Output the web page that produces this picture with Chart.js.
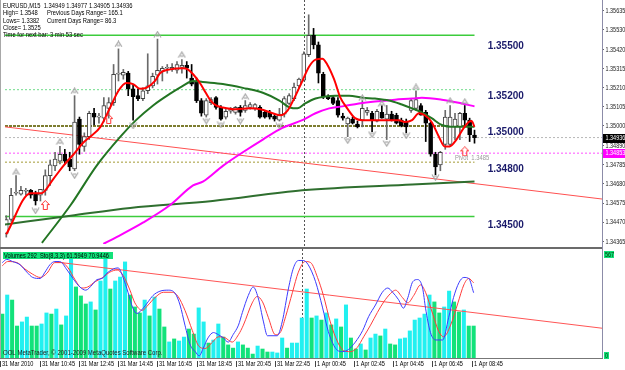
<!DOCTYPE html>
<html><head><meta charset="utf-8">
<script src="https://cdn.jsdelivr.net/npm/chart.js@4.4.1/dist/chart.umd.min.js"></script>
<style>
html,body{margin:0;padding:0;background:#fff;}
#wrap{position:relative;width:625px;height:370px;overflow:hidden;background:#fff;}
canvas{position:absolute;left:0;}
</style></head><body>
<div id="wrap">
<canvas id="c1" width="625" height="249" style="top:0"></canvas>
<canvas id="c2" width="625" height="121" style="top:249px"></canvas>
</div>
<script>
// ---------------- DATA ----------------
const opens = [1.34408,1.34484,1.34629,1.34624,1.34640,1.34645,1.34629,1.34618,1.34645,1.34726,
1.34780,1.34806,1.34844,1.34817,1.34763,1.35038,1.34887,1.34941,1.35070,1.35049,
1.35043,1.35097,1.35129,1.35285,1.35280,1.35291,1.35205,1.35167,1.35151,1.35194,
1.35221,1.35280,1.35301,1.35318,1.35312,1.35307,1.35323,1.35334,1.35264,1.35248,
1.35140,1.35059,1.35129,1.35156,1.35102,1.35049,1.35081,1.35075,1.35102,1.35086,
1.35102,1.35097,1.35102,1.35075,1.35075,1.35054,1.35032,1.35065,1.35124,1.35151,
1.35221,1.35253,1.35393,1.35500,1.35447,1.35285,1.35162,1.35156,1.35140,1.35054,
1.35011,1.35038,1.35011,1.35032,1.35075,1.35070,1.35027,1.35075,1.35038,1.35065,
1.35059,1.35032,1.35022,1.35086,1.35097,1.35113,1.35075,1.35016,1.34844,1.34785,
1.34898,1.34898,1.34995,1.34995,1.35070,1.35032,1.34949];
const highs = [1.34505,1.34656,1.34726,1.34667,1.34656,1.34650,1.34640,1.34650,1.34758,1.34812,
1.34855,1.34887,1.34871,1.34855,1.35167,1.35049,1.34962,1.35081,1.35097,1.35070,
1.35156,1.35156,1.35339,1.35425,1.35312,1.35301,1.35226,1.35205,1.35210,1.35398,
1.35291,1.35479,1.35328,1.35339,1.35344,1.35355,1.35366,1.35355,1.35339,1.35264,
1.35151,1.35151,1.35156,1.35162,1.35113,1.35092,1.35102,1.35108,1.35113,1.35140,
1.35129,1.35124,1.35113,1.35086,1.35086,1.35065,1.35097,1.35162,1.35178,1.35237,
1.35264,1.35409,1.35613,1.35538,1.35463,1.35296,1.35172,1.35167,1.35156,1.35070,
1.35049,1.35049,1.35027,1.35140,1.35102,1.35081,1.35092,1.35113,1.35113,1.35081,
1.35070,1.35043,1.35038,1.35151,1.35194,1.35124,1.35086,1.35022,1.34855,1.34860,
1.35086,1.35113,1.35070,1.35075,1.35113,1.35043,1.34977];
const lows = [1.34387,1.34473,1.34618,1.34618,1.34618,1.34602,1.34564,1.34586,1.34618,1.34672,
1.34753,1.34790,1.34790,1.34753,1.34753,1.34844,1.34860,1.34925,1.35005,1.35016,
1.35022,1.35043,1.35113,1.35248,1.35258,1.35167,1.35032,1.35140,1.35140,1.35178,
1.35210,1.35231,1.35248,1.35291,1.35301,1.35291,1.35291,1.35264,1.35221,1.35129,
1.35054,1.35049,1.35118,1.35092,1.35032,1.35038,1.35070,1.35065,1.35054,1.35075,
1.35092,1.35086,1.35043,1.35043,1.35038,1.35027,1.35027,1.35049,1.35118,1.35140,
1.35210,1.35248,1.35382,1.35425,1.35237,1.35151,1.35145,1.35118,1.35049,1.35032,
1.34941,1.35011,1.34989,1.34995,1.35059,1.34968,1.35022,1.35043,1.34925,1.35027,
1.35011,1.34995,1.34962,1.35075,1.35086,1.35059,1.34914,1.34833,1.34731,1.34753,
1.34871,1.34887,1.34925,1.34925,1.34995,1.34914,1.34905];
const closes = [1.34484,1.34618,1.34634,1.34645,1.34640,1.34618,1.34586,1.34650,1.34726,1.34785,
1.34817,1.34844,1.34806,1.34774,1.35022,1.34898,1.34941,1.35070,1.35049,1.35054,
1.35113,1.35129,1.35285,1.35291,1.35296,1.35205,1.35162,1.35151,1.35194,1.35221,
1.35274,1.35307,1.35318,1.35323,1.35323,1.35339,1.35334,1.35318,1.35231,1.35140,
1.35070,1.35140,1.35145,1.35102,1.35038,1.35081,1.35097,1.35102,1.35075,1.35113,
1.35118,1.35118,1.35049,1.35049,1.35049,1.35038,1.35065,1.35151,1.35167,1.35215,
1.35258,1.35398,1.35500,1.35447,1.35291,1.35162,1.35151,1.35124,1.35059,1.35043,
1.35043,1.35016,1.34995,1.35097,1.35086,1.35032,1.35081,1.35043,1.35065,1.35032,
1.35016,1.35000,1.34995,1.35140,1.35145,1.35059,1.35016,1.34844,1.34774,1.34855,
1.35049,1.35049,1.35038,1.35070,1.35032,1.34952,1.34936];

const volumes = [235,337,310,171,193,219,171,171,182,241,235,262,177,225,551,380,332,289,300,257,
412,562,369,412,433,514,337,273,241,310,225,326,262,166,86,102,91,112,155,128,
268,193,80,96,182,112,70,53,86,70,53,21,64,48,32,32,27,107,53,80,
80,214,369,214,225,203,241,177,209,166,284,107,48,75,43,107,128,118,155,75,
70,102,107,145,203,214,235,337,300,241,273,358,300,246,257,171,171];
// 1 = aqua bar, 0 = green bar
const volDir = [0,1,0,0,1,1,0,0,1,1,0,1,0,1,1,0,0,0,1,0,
1,1,0,1,1,1,0,0,0,1,0,1,0,0,1,0,1,1,0,0,
1,1,0,1,1,0,0,0,1,0,0,0,1,0,0,1,1,1,0,1,
1,1,1,0,1,0,1,0,1,0,1,0,0,1,0,1,1,0,1,0,
0,1,1,1,1,1,1,1,0,0,1,1,0,0,1,0,0];

// moving averages [bar, price]
const redMA = [[0,1.34403],[5,1.34629],[7.2,1.34629],[9.7,1.3471],[11.7,1.3478],[13.8,1.34844],[15.8,1.34909],[17.2,1.34941],[19.3,1.34995],[21.3,1.35102],[23,1.35194],[24.6,1.35237],[26,1.35231],[27.4,1.35205],[28.7,1.3521],[30.5,1.35248],[31.5,1.35291],[33.6,1.35312],[36.2,1.35318],[37.2,1.35312],[38.3,1.35285],[39.7,1.35237],[40.9,1.35183],[41.9,1.3514],[43,1.35113],[44.4,1.35102],[47,1.35092],[49.9,1.35097],[52.1,1.35092],[54.6,1.3507],[56.2,1.35059],[57.7,1.35086],[59.1,1.35156],[60.7,1.35248],[62.1,1.35328],[63.4,1.35366],[64.8,1.35371],[65.8,1.35339],[67.2,1.35258],[68.5,1.35156],[69.9,1.35097],[71.5,1.35043],[73,1.35032],[75.6,1.35032],[78.5,1.35032],[80.5,1.35032],[81.7,1.35022],[83.2,1.35032],[84.6,1.3507],[85.8,1.35059],[87.2,1.35022],[88.7,1.34941],[89.9,1.34887],[90.9,1.34887],[92.3,1.34925],[93.8,1.34989],[94.8,1.35022],[95.4,1.35027],[96,1.34995]];
const greenMA = [[7.3,1.34355],[13.2,1.34564],[18.5,1.3478],[23.4,1.34941],[26.6,1.35032],[30.1,1.35113],[33.6,1.35178],[36.2,1.35221],[38.3,1.35248],[40.3,1.35242],[44.4,1.35231],[48.5,1.3521],[52.6,1.35183],[56,1.3514],[58.1,1.35102],[59.7,1.35097],[61.3,1.35124],[63.4,1.35151],[65.4,1.35162],[67.4,1.35167],[70.3,1.35167],[73,1.35156],[75.6,1.35151],[78.5,1.3514],[81.1,1.35118],[83.2,1.35097],[85.2,1.35075],[87.2,1.35043],[89.3,1.35005],[91.9,1.34995],[96,1.34995]];
const magentaMA = [[19.9,1.34349],[22.6,1.34387],[28.1,1.34468],[33.6,1.34564],[38.3,1.34672],[40.3,1.34693],[44.4,1.3478],[48.5,1.34855],[52.6,1.34925],[56.6,1.34989],[60.7,1.35032],[63.4,1.3507],[66.2,1.35097],[68.9,1.35108],[72.3,1.35124],[75.6,1.35135],[79.7,1.35145],[83.2,1.35151],[85.2,1.35156],[89.3,1.35145],[93.4,1.35124],[96,1.35108]];
const slowMA = [[-0.3,1.34457],[13.2,1.34505],[25.4,1.34548],[42.3,1.34586],[60.7,1.34645],[83.2,1.34677],[96,1.34693]];

const trendMain = [[-0.265,1.34995],[122.14,1.34597]];
const levelValues = [1.355,1.352,1.35,1.348,1.345];
const levelLabelPrices = [1.35441,1.35162,1.34968,1.34763,1.34451];
const currentPrice = 1.34936;
const pivotPrice = 1.3485;
const pivotLabelPrice = 1.34853;

const fractalUp = [[2,1.34747],[11,1.34914],[14,1.35194],[23,1.35452],[31,1.35506],[36,1.35393],[49,1.35162],[73,1.35156],[77,1.35124],[84,1.35215],[91,1.3514],[94,1.35134]];
const fractalDown = [[6,1.34532],[14,1.34726],[26,1.35],[41,1.35027],[44,1.35006],[48,1.35027],[56,1.35],[70,1.34919],[75,1.34952],[78,1.34903],[82,1.34946],[88,1.34715]];
const signalUp = [[8,1.34564],[21,1.35038],[94,1.3486]];

const priceTicks = [1.35635,1.35530,1.35420,1.35315,1.35210,1.35105,1.35000,1.34890,1.34785,1.34680,1.34575,1.34470,1.34365];

const stochK = [[0,90],[0.9,93],[2.1,91],[3.6,88],[5,81],[6.2,76],[7.7,75],[8.7,81],[9.7,88],[10.7,91],[11.7,91],[13.2,83],[14.4,75],[15.8,67],[17,64],[18.3,69],[19.3,74],[20.3,75],[21.3,80],[22.6,84],[23.6,85],[24.6,76],[25.6,62],[26.6,47],[27.4,42],[28.7,47],[29.7,53],[30.7,59],[32.1,63],[33.8,64],[35.2,61],[36.2,50],[37.2,31],[38.3,12],[39.3,6],[40.1,2],[40.9,9],[41.9,19],[43,24],[44,22],[45,19],[46,15],[47,22],[48.1,31],[48.9,43],[50.1,59],[51.1,67],[52.1,57],[53.2,34],[54,21],[56,21],[57,34],[58.3,66],[59.3,85],[60.3,92],[61.3,92],[62.3,88],[63.8,72],[65.2,48],[66.4,25],[67.9,9],[69.3,6],[70.5,8],[71.9,15],[73.4,26],[74.6,39],[76,50],[77.4,62],[78.5,66],[79.5,62],[80.7,55],[81.7,47],[82.6,57],[83.6,72],[84.6,74],[85.6,66],[86.2,47],[87.2,24],[88.3,17],[89.7,17],[90.9,38],[91.9,57],[93,71],[94,76],[95,75],[96,61.59]];
const stochD = [[0,87],[1.1,91],[3,90],[4.6,84],[6.2,79],[7.7,76],[9.1,80],[10.7,90],[12.1,90],[13.4,85],[14.8,74],[16.2,66],[17.4,67],[18.9,72],[20.5,76],[21.9,81],[23.4,83],[24.6,78],[26,64],[27,52],[28.5,45],[29.7,50],[31.1,57],[32.8,62],[34.6,62],[35.8,58],[37.2,45],[38.7,26],[39.9,12],[41.3,9],[42.8,15],[44,20],[45.4,19],[46.8,15],[48.1,22],[49.1,31],[50.9,52],[51.9,58],[53,53],[54.2,38],[55.6,22],[56.6,24],[57.7,39],[59.1,62],[60.3,81],[61.7,91],[62.8,90],[64.2,76],[65.4,59],[66.8,34],[68.3,15],[69.5,7],[70.9,6],[72.3,10],[73.6,20],[75,31],[76.4,43],[77.7,53],[79.1,61],[80.1,64],[81.5,57],[82.6,52],[83.8,59],[85.2,69],[86.2,62],[87.7,41],[88.9,25],[89.9,20],[91.3,31],[92.8,52],[94,69],[95,75],[96,70.94]];
const stochTrend = [[11.1,90.5],[122.14,28.1]];

const tickBars = [0,8,16,24,32,40,48,56,64,72,80,88,96];
const timeLabels = ['31 Mar 2010','31 Mar 10:45','31 Mar 12:45','31 Mar 14:45','31 Mar 16:45','31 Mar 18:45','31 Mar 20:45','31 Mar 22:45','1 Apr 00:45','1 Apr 02:45','1 Apr 04:45','1 Apr 06:45','1 Apr 08:45'];
const daySepBar = 61;
const VOL_MAX = 567;

// ---------------- RENDER ----------------
const F7 = "7px 'Liberation Sans',Arial,sans-serif";
Chart.defaults.font.family = "'Liberation Sans',Arial,sans-serif";
Chart.defaults.font.size = 7;
Chart.defaults.color = '#222';
const X_MIN = -0.265, X_MAX = 122.14;
const P_MIN = 1.34349, P_MAX = 1.35667;
const AQUA = '#22f0f0', SPRING = '#12e27a';

const pts = a => a.map(([x,y]) => ({x, y}));
const hline = (v, x1) => [{x: X_MIN, y: v}, {x: x1, y: v}];
function mk(w,h,fn){const c=document.createElement('canvas');c.width=w;c.height=h;fn(c.getContext('2d'));return c;}
const upImg = mk(9,7,g=>{g.strokeStyle='#a4a4a4';g.lineWidth=1.2;g.beginPath();g.moveTo(1,6.5);g.lineTo(4.5,1);g.lineTo(8,6.5);g.stroke();g.beginPath();g.moveTo(3,5);g.lineTo(6,5);g.stroke();});
const dnImg = mk(9,7,g=>{g.strokeStyle='#a4a4a4';g.lineWidth=1.2;g.beginPath();g.moveTo(1,0.5);g.lineTo(4.5,6);g.lineTo(8,0.5);g.stroke();g.beginPath();g.moveTo(3,2);g.lineTo(6,2);g.stroke();});
const sigImg = mk(9,10,g=>{g.strokeStyle='#ff3030';g.lineWidth=1;g.beginPath();g.moveTo(4.5,0.5);g.lineTo(8.5,4.5);g.lineTo(6.5,4.5);g.lineTo(6.5,9.5);g.lineTo(2.5,9.5);g.lineTo(2.5,4.5);g.lineTo(0.5,4.5);g.closePath();g.stroke();});

const isBull = i => closes[i] >= opens[i];
const N = opens.length;
const idx = [...Array(N).keys()];

function txt(g,s,x,y,font,color,sx){g.save();g.font=font;g.fillStyle=color;g.textAlign='left';g.textBaseline='middle';g.translate(x,y);g.scale(sx||1,1);g.fillText(s,0,0);g.restore();}
function sep(ch,y1,y2){const g=ch.ctx;const x=Math.round(ch.scales.x.getPixelForValue(daySepBar))+0.5;g.save();g.strokeStyle='#555';g.lineWidth=1;g.setLineDash([2,2]);g.beginPath();g.moveTo(x,y1);g.lineTo(x,y2);g.stroke();g.restore();}

const topDeco = {
  id:'topDeco',
  beforeDatasetsDraw(ch){ sep(ch,0,247); },
  afterDraw(ch){
    const g=ch.ctx, xs=ch.scales.x, ys=ch.scales.y;
    g.save();
    g.fillStyle='#6b6b6b'; g.fillRect(0,247,603,2);
    g.fillStyle='#a8a8a8'; g.fillRect(0,0,1,247);
    g.fillStyle='#8c8ca8'; g.fillRect(602,0,1,249);
    ys.ticks.forEach(t=>txt(g, Number(t.value).toFixed(5), 605.5, ys.getPixelForValue(t.value)+0.5, F7, '#222', 0.78));
    levelLabelPrices.forEach((p,i)=>txt(g, levelValues[i].toFixed(5), xs.getPixelForValue(98.7), ys.getPixelForValue(p), "bold 10px 'Liberation Sans',Arial", '#1b1b6b'));
    txt(g, 'Pivot  ' + pivotPrice.toFixed(4), xs.getPixelForValue(92), ys.getPixelForValue(1.34823), F7, '#9a9a9a', 0.84);
    const L = N-1;
    const head = [[3,6,'EURUSD,M15  '+[opens[L],highs[L],lows[L],closes[L]].map(v=>v.toFixed(5)).join(' ')],
      [3,13.4,'High= 1.3548'],[47,13.4,'Previous Days Range= 165.1'],
      [3,20.8,'Lows= 1.3382'],[47,20.8,'Current Days Range= 86.3'],
      [3,28,'Close= 1.3525'],[3,35.2,'Time for next bar: 3 min 53 sec']];
    head.forEach(([x,y,s])=>txt(g,s,x,y,F7,'#000',0.83));
    [[currentPrice,'#000','#fff'],[pivotLabelPrice,'#ff00ff','#fff']].forEach(([p,bg,fg])=>{
      const y=ys.getPixelForValue(p); g.fillStyle=bg; g.fillRect(603,Math.round(y)-4,22,9); txt(g,p.toFixed(5),605.5,y+0.5,F7,fg,0.78);
    });
    g.restore();
  }
};

const lineDs = (data,color,w,order,extra) => Object.assign({type:'line',data,borderColor:color,borderWidth:w,pointRadius:0,fill:false,tension:0,order},extra||{});

new Chart(document.getElementById('c1'), {
  type:'bar',
  data:{datasets:[
    lineDs(hline(levelValues[0],96),'#3ccc3c',1.5,20),
    lineDs(hline(levelValues[1],96),'#6fdc8a',1,20,{borderDash:[2,2]}),
    lineDs(hline(levelValues[2],96),'#7d7d30',2,20,{borderDash:[3,1]}),
    lineDs(hline(levelValues[3],96),'#c2bc78',1.5,20,{borderDash:[2,2]}),
    lineDs(hline(levelValues[4],96),'#3ccc3c',1.5,20),
    lineDs(hline(currentPrice,X_MAX),'#b8b8b8',1,20,{borderDash:[2,2]}),
    lineDs(hline(pivotPrice,X_MAX),'#ff50ff',1,20,{borderDash:[2,2]}),
    lineDs(pts(trendMain),'#ff5050',1,19),
    {type:'bar',data:idx.map(i=>({x:i,y:[lows[i],highs[i]]})),backgroundColor:idx.map(i=>isBull(i)?'#6a6a6a':'#000'),borderWidth:0,barThickness:1,grouped:false,minBarLength:1,order:12},
    {type:'bar',data:idx.map(i=>({x:i,y:[opens[i],closes[i]]})),backgroundColor:idx.map(i=>isBull(i)?'#fff':'#000'),borderColor:idx.map(i=>isBull(i)?'#444':'#000'),borderWidth:1,borderSkipped:false,barThickness:4,grouped:false,minBarLength:1,order:11},
    lineDs(pts(slowMA),'#2f6f2f',2,9,{cubicInterpolationMode:'monotone'}),
    lineDs(pts(magentaMA),'#ff00ff',2,8,{cubicInterpolationMode:'monotone'}),
    lineDs(pts(greenMA),'#237523',2,7,{cubicInterpolationMode:'monotone'}),
    lineDs(pts(redMA),'#ff0000',2,6,{cubicInterpolationMode:'monotone'}),
    {type:'line',data:pts(fractalUp),showLine:false,pointStyle:upImg,pointRadius:4,order:2},
    {type:'line',data:pts(fractalDown),showLine:false,pointStyle:dnImg,pointRadius:4,order:2},
    {type:'line',data:pts(signalUp),showLine:false,pointStyle:sigImg,pointRadius:4,order:1}
  ]},
  options:{
    responsive:false, animation:false, events:[],
    plugins:{legend:{display:false},tooltip:{enabled:false}},
    layout:{padding:{left:1,top:2,right:0,bottom:2}},
    scales:{
      x:{type:'linear',min:X_MIN,max:X_MAX,offset:false,display:false},
      y:{type:'linear',position:'right',min:P_MIN,max:P_MAX,
        afterBuildTicks(s){s.ticks=priceTicks.map(v=>({value:v}));},
        afterFit(s){s.width=23;s.paddingTop=0;s.paddingBottom=0;},
        ticks:{display:false},
        grid:{drawOnChartArea:false,drawTicks:true,tickLength:2,color:'#666'},
        border:{display:false}}
    }
  },
  plugins:[topDeco]
});

const botDeco = {
  id:'botDeco',
  beforeDatasetsDraw(ch){ sep(ch,0,109); },
  afterDraw(ch){
    const g=ch.ctx, xs=ch.scales.x;
    g.save();
    g.fillStyle='#a8a8a8'; g.fillRect(0,0,1,109);
    g.fillStyle='#8c8ca8'; g.fillRect(602,0,1,110);
    g.fillStyle='#777'; g.fillRect(0,109,603,1);
    g.fillStyle=SPRING; g.fillRect(3,3,110,7);
    txt(g,'Volumes 292  Sto(8,3,3) 61.5949 70.9446',4,6.8,F7,'#000',0.81);
    txt(g,'OOL MetaTrader, \u00a9 2001-2009 MetaQuotes Software Corp.',3,104.5,F7,'#222',0.86);
    g.fillStyle=SPRING; g.fillRect(604,2,10,7); txt(g,String(VOL_MAX),605,5.8,F7,'#003000',0.78);
    g.fillStyle=SPRING; g.fillRect(604,103,5,7); txt(g,'0',605,106.8,F7,'#003000',0.78);
    xs.ticks.forEach((t,i)=>{
      const x=Math.round(xs.getPixelForValue(t.value));
      g.fillStyle='#444'; g.fillRect(x-2,112,1,6);
      txt(g,timeLabels[i],x,115.5,F7,'#000',0.8);
    });
    g.restore();
  }
};

new Chart(document.getElementById('c2'), {
  type:'bar',
  data:{datasets:[
    lineDs(pts(stochK),'#3c3cff',1,1,{yAxisID:'ys',cubicInterpolationMode:'monotone'}),
    lineDs(pts(stochD),'#ff3c3c',1,2,{yAxisID:'ys',cubicInterpolationMode:'monotone'}),
    lineDs(pts(stochTrend),'#ff5555',1,3,{yAxisID:'ys'}),
    {type:'bar',yAxisID:'yv',data:idx.map(i=>({x:i,y:volumes[i]})),backgroundColor:volDir.map(d=>d?AQUA:SPRING),borderWidth:0,barThickness:3.4,grouped:false,order:4}
  ]},
  options:{
    responsive:false, animation:false, events:[],
    plugins:{legend:{display:false},tooltip:{enabled:false}},
    layout:{padding:{left:1,top:3,right:0,bottom:0}},
    scales:{
      x:{type:'linear',min:X_MIN,max:X_MAX,offset:false,position:'bottom',
        afterBuildTicks(s){s.ticks=tickBars.map(v=>({value:v}));},
        afterFit(s){s.height=12;s.paddingLeft=0;s.paddingRight=0;},
        ticks:{display:false},
        grid:{display:false,drawTicks:false},
        border:{display:false}},
      yv:{type:'linear',position:'right',min:0,max:VOL_MAX,
        afterBuildTicks(s){s.ticks=[];},
        afterFit(s){s.width=23;s.paddingTop=0;s.paddingBottom=0;},
        ticks:{display:false},grid:{display:false},border:{display:false}},
      ys:{type:'linear',display:false,min:0,max:100}
    }
  },
  plugins:[botDeco]
});
</script>
</body></html>
